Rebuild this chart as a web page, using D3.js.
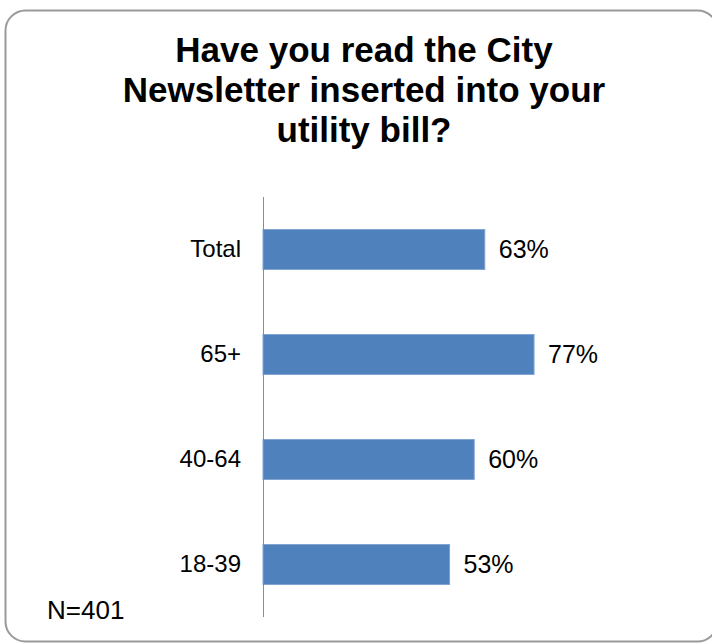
<!DOCTYPE html>
<html>
<head>
<meta charset="utf-8">
<script src="https://cdn.jsdelivr.net/npm/d3@7"></script>
<style>
  html, body { margin: 0; padding: 0; background: #fff; }
  svg { display: block; font-family: "Liberation Sans", Arial, sans-serif; }
</style>
</head>
<body>
<svg id="chart" width="712" height="644"></svg>
<script>
// Share of respondents who read the City Newsletter, by age group
const categories = ["Total", "65+", "40-64", "18-39"];
const values = [63, 77, 60, 53];
const valueLabels = ["63%", "77%", "60%", "53%"];
const titleLines = ["Have you read the City", "Newsletter inserted into your", "utility bill?"];
const note = "N=401";

const svg = d3.select("#chart");

// Rounded frame around the chart area
svg.append("rect")
  .attr("x", 5.5).attr("y", 10.5)
  .attr("width", 712).attr("height", 631)
  .attr("rx", 20).attr("ry", 20)
  .attr("fill", "#fff")
  .attr("stroke", "#9a9a9a")
  .attr("stroke-width", 2);

// Title
svg.append("text")
  .attr("text-anchor", "middle")
  .attr("font-weight", "bold")
  .attr("font-size", 35)
  .attr("fill", "#000")
  .selectAll("tspan")
  .data(titleLines)
  .join("tspan")
  .attr("x", 364)
  .attr("y", (d, i) => 62 + i * 40)
  .text(d => d);

const plotLeft = 263, plotRight = 615, plotTop = 197, plotBottom = 617;

const x = d3.scaleLinear().domain([0, 100]).range([plotLeft, plotRight]);
const y = d3.scaleBand().domain(categories).range([plotTop, plotBottom]).paddingInner(0.62).paddingOuter(0.31);

// Bars
svg.append("g")
  .selectAll("rect")
  .data(values)
  .join("rect")
  .attr("x", x(0))
  .attr("y", (d, i) => y(categories[i]))
  .attr("width", d => x(d) - x(0))
  .attr("height", y.bandwidth())
  .attr("fill", "#4f81bd")
  .attr("stroke", "#7ea3d1")
  .attr("stroke-width", 1);

// Category axis (labels only, no ticks)
const yAxis = svg.append("g")
  .attr("transform", `translate(${plotLeft},0)`)
  .call(d3.axisLeft(y).tickSize(0).tickPadding(22));
yAxis.select(".domain").remove();
yAxis.selectAll("text")
  .attr("font-size", 24)
  .attr("font-family", "Liberation Sans, Arial, sans-serif")
  .attr("fill", "#000");

svg.append("line")
  .attr("x1", plotLeft + 0.5).attr("x2", plotLeft + 0.5)
  .attr("y1", plotTop).attr("y2", plotBottom)
  .attr("stroke", "#8c8c8c")
  .attr("stroke-width", 1);

// Value labels
svg.append("g")
  .selectAll("text")
  .data(values)
  .join("text")
  .attr("x", d => x(d) + 14)
  .attr("y", (d, i) => y(categories[i]) + y.bandwidth() / 2)
  .attr("dy", "0.35em")
  .attr("font-size", 25)
  .attr("fill", "#000")
  .text((d, i) => valueLabels[i]);

// Sample size note
svg.append("text")
  .attr("x", 47).attr("y", 619)
  .attr("font-size", 26)
  .attr("fill", "#000")
  .text(note);
</script>
</body>
</html>
